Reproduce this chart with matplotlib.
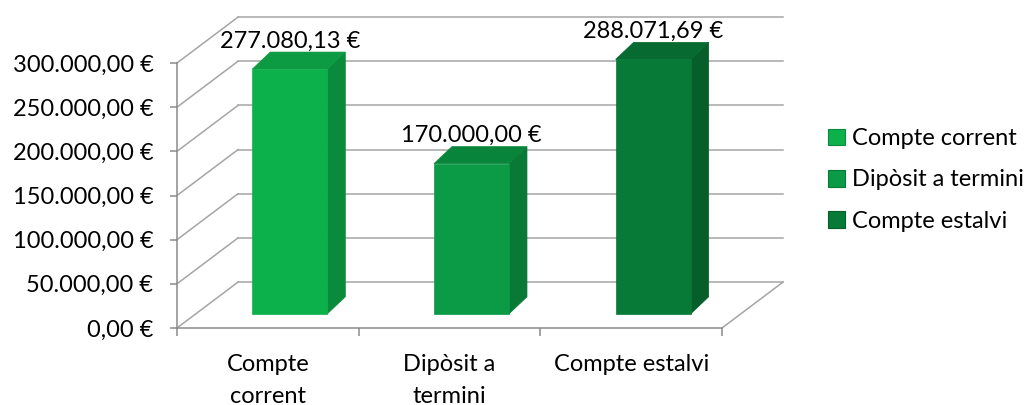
import matplotlib.pyplot as plt
from matplotlib.patches import Polygon, Patch
from matplotlib.ticker import FuncFormatter

# data
categories = ["Compte corrent", "Dipòsit a termini", "Compte estalvi"]
axis_labels = ["Compte\ncorrent", "Dipòsit a\ntermini", "Compte estalvi"]
values = [277080.13, 170000.00, 288071.69]
y_ticks = [0, 50000, 100000, 150000, 200000, 250000, 300000]

front_colors = ["#0db14b", "#0b9a46", "#087a37"]
side_colors = ["#0a8a3b", "#087a36", "#065e2a"]
top_colors = ["#0c9a43", "#09843b", "#076a30"]
grid_color = "#a5a5a5"
axis_color = "#8a8a8a"

# fake 3d geometry (category units / value units)
WALL_DX, WALL_DY = 0.336, 52000
BAR_W, BAR_SHIFT, BAR_Y0 = 0.413, 0.121, 16000
BAR_DX, BAR_DY = 0.099, 19300


def euro(v, pos=None):
    s = f"{v:,.2f}".replace(",", " ").replace(".", ",").replace(" ", ".")
    return s + " €"


plt.rcParams["font.family"] = ["Lato", "DejaVu Sans"]
plt.rcParams["font.size"] = 17

fig = plt.figure(figsize=(10.35, 4.05), dpi=100)
ax = fig.add_axes([177 / 1035, 77 / 405, 545 / 1035, 265 / 405])
ax.set_xlim(0.5, 3.5)
ax.set_ylim(0, 300000)

for s in ["top", "right"]:
    ax.spines[s].set_visible(False)
for s in ["left", "bottom"]:
    ax.spines[s].set_color(axis_color)
    ax.spines[s].set_linewidth(1.1)

ax.set_yticks(y_ticks)
ax.yaxis.set_major_formatter(FuncFormatter(euro))
ax.tick_params(axis="y", length=5, width=1.1, color=axis_color, pad=12)
ax.set_xticks([1, 2, 3], axis_labels, linespacing=1.6)
ax.set_xticks([0.5, 1.5, 2.5, 3.5], minor=True)
ax.tick_params(axis="x", which="major", length=0, pad=19)
ax.tick_params(axis="x", which="minor", length=6, width=1.1, color=axis_color)

# walls: side wall diagonals, back wall gridlines, floor edge
x0, x1 = ax.get_xlim()
for v in y_ticks:
    ax.plot([x0, x0 + WALL_DX], [v, v + WALL_DY], color=grid_color, lw=1.1,
            clip_on=False, zorder=1)
    ax.plot([x0 + WALL_DX, x1 + WALL_DX], [v + WALL_DY, v + WALL_DY],
            color=grid_color, lw=1.1, clip_on=False, zorder=1)
ax.plot([x1, x1 + WALL_DX], [0, WALL_DY], color=grid_color, lw=1.1,
        clip_on=False, zorder=1)

# bars
for i, v in enumerate(values):
    xc = i + 1 + BAR_SHIFT
    left, right = xc - BAR_W / 2, xc + BAR_W / 2
    b, t = BAR_Y0, BAR_Y0 + v
    front = [(left, b), (right, b), (right, t), (left, t)]
    side = [(right, b), (right + BAR_DX, b + BAR_DY),
            (right + BAR_DX, t + BAR_DY), (right, t)]
    top = [(left, t), (right, t), (right + BAR_DX, t + BAR_DY),
           (left + BAR_DX, t + BAR_DY)]
    for pts, c in [(side, side_colors[i]), (top, top_colors[i]), (front, front_colors[i])]:
        ax.add_patch(Polygon(pts, closed=True, facecolor=c, edgecolor=c,
                             lw=0.5, clip_on=False, zorder=3))
    ax.annotate(euro(v), xy=(xc, t + BAR_DY), xytext=(0, 8),
                textcoords="offset points", ha="center", va="center",
                annotation_clip=False, zorder=4)

handles = [Patch(facecolor=front_colors[i], edgecolor=side_colors[i], lw=0.8)
           for i in range(len(categories))]
fig.legend(handles, categories, loc="center left",
           bbox_to_anchor=(828 / 1035, 1 - 180 / 405), frameon=False,
           handlelength=0.7, handleheight=0.7, handletextpad=0.3,
           labelspacing=0.85, borderaxespad=0, borderpad=0)

fig.savefig("out.png", dpi=100)
